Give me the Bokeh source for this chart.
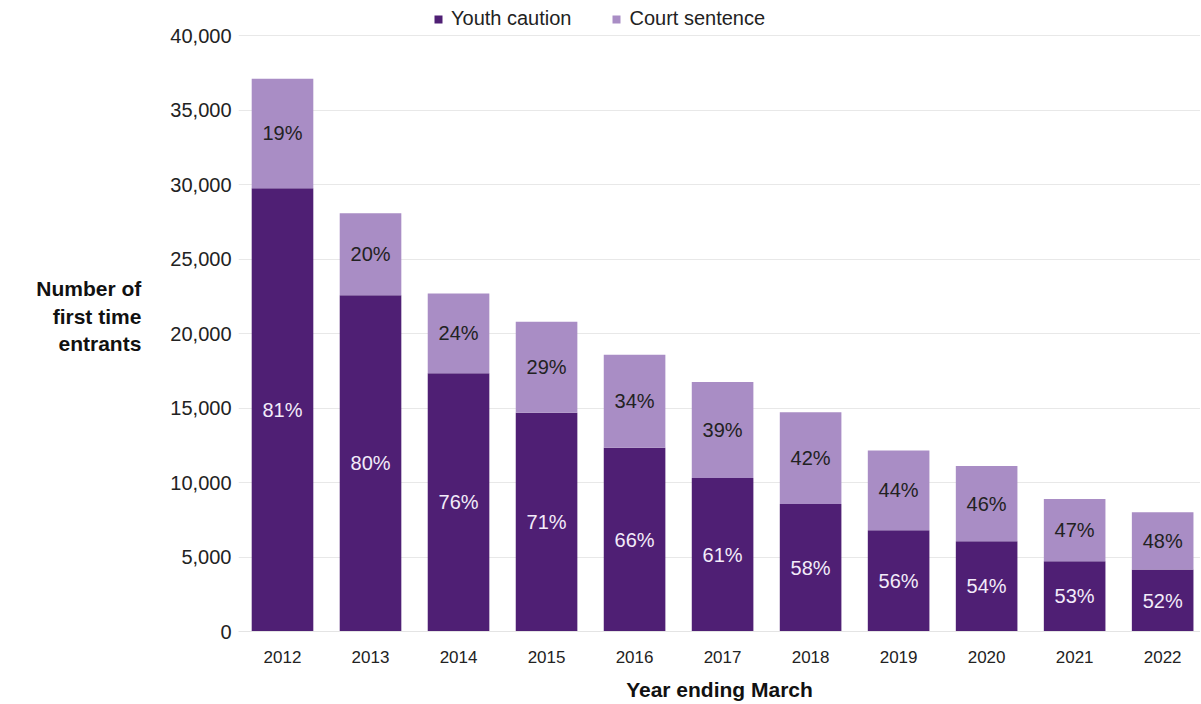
from bokeh.plotting import figure
from bokeh.models import (ColumnDataSource, Range1d, FixedTicker, NumeralTickFormatter,
                          Legend, LegendItem)
from bokeh.core.properties import value
from bokeh.embed import file_html
from bokeh.resources import INLINE

# ---- data ----
years = ["2012", "2013", "2014", "2015", "2016", "2017", "2018", "2019", "2020", "2021", "2022"]
youth_caution = [29750, 22560, 17330, 14680, 12340, 10300, 8550, 6800, 6060, 4710, 4160]
court_sentence = [7350, 5510, 5350, 6110, 6230, 6450, 6170, 5350, 5050, 4180, 3850]
youth_pct = [81, 80, 76, 71, 66, 61, 58, 56, 54, 53, 52]
court_pct = [19, 20, 24, 29, 34, 39, 42, 44, 46, 47, 48]
y_ticks = [0, 5000, 10000, 15000, 20000, 25000, 30000, 35000, 40000]

DARK = "#4F1F74"
LIGHT = "#A98DC5"
FONT = "Liberation Sans"

idx = list(range(len(years)))
totals = [a + b for a, b in zip(youth_caution, court_sentence)]
src = ColumnDataSource(dict(
    x=idx,
    zero=[0] * len(idx),
    youth=youth_caution,
    total=totals,
    youth_mid=[a / 2 for a in youth_caution],
    court_mid=[a + b / 2 for a, b in zip(youth_caution, court_sentence)],
    youth_lbl=[f"{v}%" for v in youth_pct],
    court_lbl=[f"{v}%" for v in court_pct],
))

# frame runs from the figure top (room for the legend) down to the zero line
FRAME_H = 631
TOP_PAD = 35
y_end = y_ticks[-1] * FRAME_H / (FRAME_H - TOP_PAD)

p = figure(width=1200, height=703, output_backend="svg", toolbar_location=None,
           x_range=Range1d(-0.5, 10.43), y_range=Range1d(0, y_end),
           min_border_left=238, min_border_right=0, min_border_top=0, min_border_bottom=72)
p.outline_line_color = None
p.background_fill_color = "white"
p.border_fill_color = "white"

r_youth = p.vbar(x="x", bottom="zero", top="youth", width=0.70, source=src,
                 fill_color=DARK, line_color=None)
r_court = p.vbar(x="x", bottom="youth", top="total", width=0.70, source=src,
                 fill_color=LIGHT, line_color=None)

p.text(x="x", y="youth_mid", text="youth_lbl", source=src, text_align="center",
       text_baseline="middle", text_color="#F3ECFA", text_font=value(FONT),
       text_font_size="20px")
p.text(x="x", y="court_mid", text="court_lbl", source=src, text_align="center",
       text_baseline="middle", text_color="#222222", text_font=value(FONT),
       text_font_size="20px")

# x axis
p.xaxis.ticker = FixedTicker(ticks=idx)
p.xaxis.major_label_overrides = {i: y for i, y in zip(idx, years)}
p.xaxis.major_label_text_font = FONT
p.xaxis.major_label_text_font_size = "17px"
p.xaxis.major_label_text_color = "#222222"
p.xaxis.major_label_standoff = 13
p.xaxis.major_tick_line_color = None
p.xaxis.minor_tick_line_color = None
p.xaxis.axis_line_color = "#E4E4E4"
p.xaxis.axis_label = "Year ending March"
p.xaxis.axis_label_text_font = FONT
p.xaxis.axis_label_text_font_size = "21px"
p.xaxis.axis_label_text_font_style = "bold"
p.xaxis.axis_label_text_color = "#111111"
p.xaxis.axis_label_standoff = 12

# y axis
p.yaxis.ticker = FixedTicker(ticks=y_ticks)
p.yaxis.formatter = NumeralTickFormatter(format="0,0")
p.yaxis.major_label_text_font = FONT
p.yaxis.major_label_text_font_size = "20px"
p.yaxis.major_label_text_color = "#222222"
p.yaxis.major_label_standoff = 1
p.yaxis.major_tick_line_color = None
p.yaxis.minor_tick_line_color = None
p.yaxis.axis_line_color = None
p.yaxis.axis_label = "Number of\nfirst time\nentrants"
p.yaxis.axis_label_orientation = "horizontal"
p.yaxis.axis_label_text_font = FONT
p.yaxis.axis_label_text_font_size = "21px"
p.yaxis.axis_label_text_font_style = "bold"
p.yaxis.axis_label_text_color = "#111111"
p.yaxis.axis_label_text_align = "center"
p.yaxis.axis_label_text_line_height = 1.2
p.yaxis.axis_label_standoff = 26

p.xgrid.grid_line_color = None
p.ygrid.grid_line_color = "#E8E8E8"
p.ygrid.ticker = FixedTicker(ticks=y_ticks)

# legend in the strip above the 40,000 gridline
legend = Legend(items=[LegendItem(label="Youth caution", renderers=[r_youth]),
                       LegendItem(label="Court sentence", renderers=[r_court])],
                location=(195, FRAME_H - 30), orientation="horizontal",
                glyph_width=10, glyph_height=10, label_height=20,
                label_standoff=8, spacing=40, padding=0, margin=0,
                label_text_font=FONT, label_text_font_size="20px",
                label_text_color="#222222",
                background_fill_alpha=0, border_line_alpha=0)
p.add_layout(legend, "center")

open("out.html", "w").write(file_html(p, INLINE))
